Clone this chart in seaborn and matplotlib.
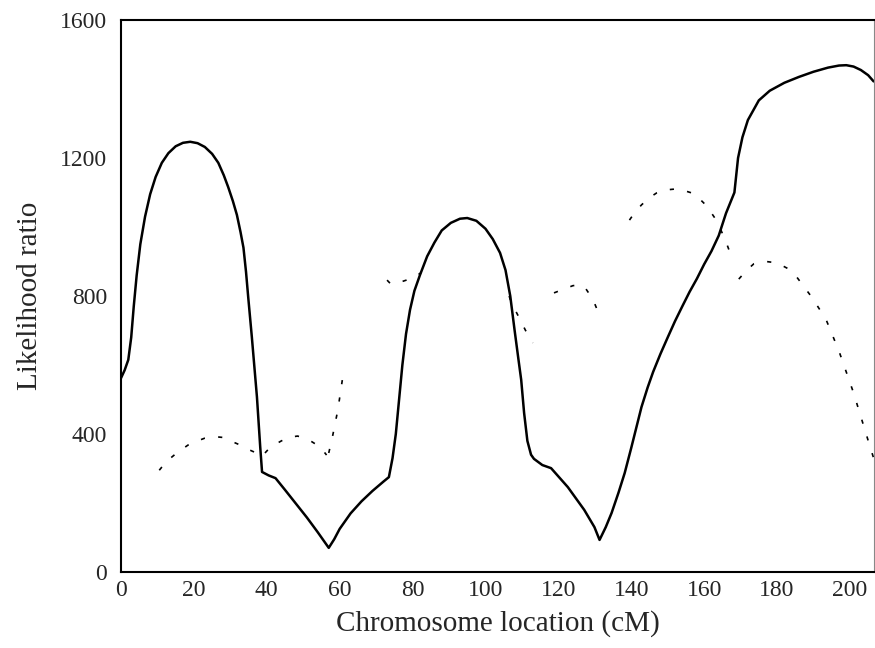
import numpy as np
import pandas as pd
import matplotlib
matplotlib.use("Agg")
import matplotlib.pyplot as plt
import seaborn as sns

# solid profile
solid_x = [0, 1, 2, 2.8, 3.5, 4.3, 5.3, 6.6, 8, 9.5, 11.2, 13, 15, 17, 19, 21, 23,
           25, 26.7, 28.2, 29.4, 30.7, 31.8, 32.8, 33.6, 34.3, 34.9, 35.9, 37.3,
           38.2, 38.7, 40.5, 42.4, 45, 48, 51, 54, 57, 58.5, 60, 63, 66, 69, 72,
           73.5, 74.5, 75.4, 76.3, 77.2, 78.2, 79.3, 80.5, 82, 84, 86, 88, 90.5,
           93, 95, 97.5, 100, 102, 104, 105.5, 106.8, 108, 109, 109.8, 110.6,
           111.5, 112.5, 113.3, 115.6, 118, 122.6, 127.1, 129.9, 131.3, 133, 134.6,
           136.5, 138.2, 140, 142.8, 144.5, 146, 148, 150, 152, 154, 156, 158, 160,
           162, 164, 166, 168.3, 168.8, 169.3, 170.5, 172, 175, 178, 182, 186, 190,
           194, 197, 199, 201, 203, 205, 206.5]
solid_y = [562, 585, 615, 680, 770, 860, 950, 1030, 1095, 1145, 1186, 1214, 1234,
           1244, 1247, 1243, 1232, 1212, 1186, 1150, 1116, 1075, 1035, 985, 940,
           870, 797, 681, 507, 362, 290, 280, 272, 238, 198, 158, 115, 70, 95, 125,
           170, 205, 235, 262, 275, 330, 400, 500, 600, 690, 760, 815, 860, 915,
           955, 990, 1012, 1024, 1026, 1018, 995, 965, 925, 875, 800, 700, 620, 557,
           461, 380, 340, 328, 310, 301, 246, 180, 130, 93, 130, 171, 230, 287, 360,
           478, 535, 580, 632, 680, 727, 770, 812, 850, 892, 930, 975, 1040, 1100,
           1150, 1200, 1260, 1310, 1367, 1395, 1418, 1435, 1450, 1462, 1468, 1469,
           1465, 1455, 1440, 1422]

# dashed profile, in broken pieces
dash_a_x = [10.5, 11.2, 13, 15.3, 18.4, 21, 23, 26, 28, 30.5, 32.7, 35, 38.2]
dash_a_y = [295, 304, 325, 345, 368, 380, 388, 392, 390, 378, 368, 355, 340]
dash_b_x = [39.5, 41, 44, 46, 48.4, 50, 52, 54.7, 56.4]
dash_b_y = [345, 362, 380, 390, 394, 390, 380, 362, 339]
dash_c_x = [57, 58, 59.5, 60.8]
dash_c_y = [345, 391, 470, 562]
dash_d_x = [73, 74, 76, 78, 80, 82.3]
dash_d_y = [846, 835, 838, 845, 852, 867]
dash_e_x = [106.5, 107, 109, 111, 113]
dash_e_y = [800, 783, 742, 700, 664]
dash_f_x = [118.8, 121, 124, 126.3, 127.6, 129.5, 131]
dash_f_y = [809, 818, 830, 832, 820, 790, 751]
dash_g_x = [139.5, 140.9, 142.8, 145, 147, 149, 152, 155, 157.4, 160.7, 163.7, 166.2, 168]
dash_g_y = [1020, 1041, 1064, 1085, 1099, 1107, 1110, 1104, 1096, 1061, 1014, 951, 900]
dash_h_x = [169.5, 171.7, 173.6, 177, 180, 182.7, 185.4, 189.5, 193.4, 197, 201, 203, 205.2, 206.5]
dash_h_y = [849, 875, 893, 900, 896, 881, 855, 797, 733, 640, 519, 450, 374, 330]

x_ticks = [0, 20, 40, 60, 80, 100, 120, 140, 160, 180, 200]
y_ticks = [0, 400, 800, 1200, 1600]

sns.set_style("white")
plt.rcParams['font.family'] = ['Liberation Serif', 'DejaVu Serif']

pieces = [(dash_a_x, dash_a_y), (dash_b_x, dash_b_y), (dash_c_x, dash_c_y),
          (dash_d_x, dash_d_y), (dash_e_x, dash_e_y), (dash_f_x, dash_f_y),
          (dash_g_x, dash_g_y), (dash_h_x, dash_h_y)]
dashed = pd.concat([pd.DataFrame({"x": px, "y": py, "piece": i})
                    for i, (px, py) in enumerate(pieces)], ignore_index=True)
solid = pd.DataFrame({"x": solid_x, "y": solid_y})

fig = plt.figure(figsize=(8.75, 6.48), dpi=100)
ax = fig.add_axes([121 / 875, 1 - 572 / 648, (874 - 121) / 875, (572 - 20) / 648])

sns.lineplot(data=dashed, x="x", y="y", units="piece", estimator=None, ax=ax,
             color="black", linewidth=1.2, dashes=False, sort=False)
for line in ax.get_lines():
    line.set_dashes((2.5, 8))
sns.lineplot(data=solid, x="x", y="y", ax=ax, color="black", linewidth=1.8,
             sort=False, estimator=None)

ax.set_xlim(0, 206.6)
ax.set_ylim(0, 1600)
ax.set_xticks(x_ticks)
ax.set_yticks(y_ticks)
ax.tick_params(length=0, labelsize=17)
ax.tick_params(axis="y", pad=10)
ax.tick_params(axis="x", pad=6)
ax.set_xlabel("Chromosome location (cM)", fontsize=21, labelpad=6)
ax.set_ylabel("Likelihood ratio", fontsize=21, labelpad=12)

for side in ["left", "bottom", "top"]:
    ax.spines[side].set_color("black")
    ax.spines[side].set_linewidth(1.5)
ax.spines["right"].set_color("#888888")
ax.spines["right"].set_linewidth(0.8)

fig.savefig("out.png", dpi=100)
